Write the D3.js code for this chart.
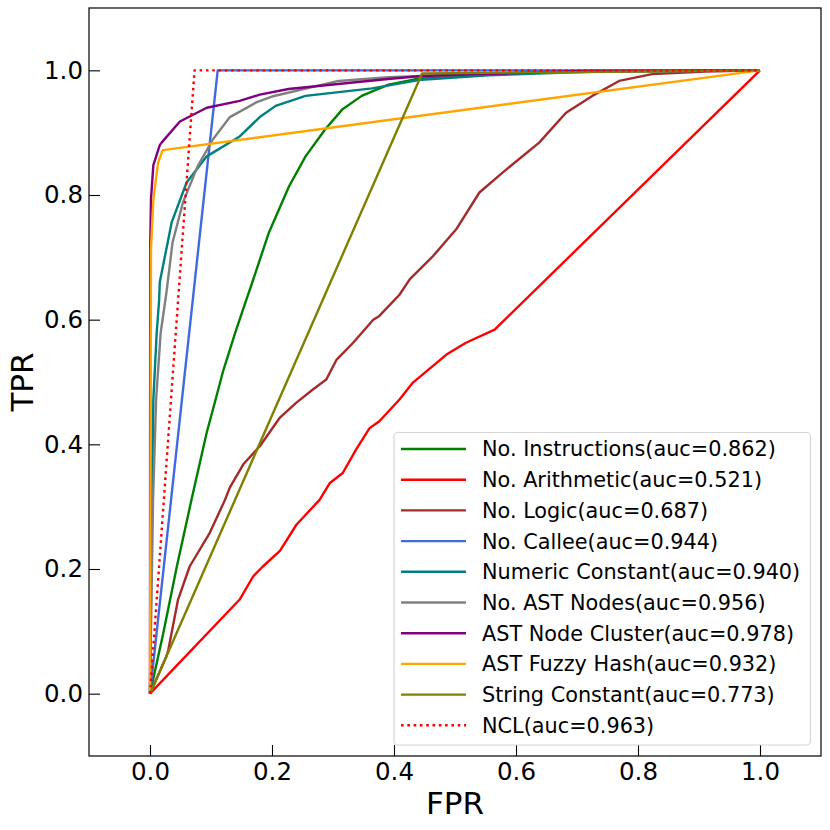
<!DOCTYPE html>
<html>
<head>
<meta charset="utf-8">
<script src="https://cdn.jsdelivr.net/npm/d3@7"></script>
<style>
  body { margin: 0; background: #fff; }
  text { font-family: "DejaVu Sans", sans-serif; fill: #000; }
</style>
</head>
<body>
<div id="chart"></div>
<script>
// ROC curves
const instrFpr = [0, 0.022, 0.044, 0.068, 0.093, 0.107, 0.12, 0.14, 0.158, 0.165, 0.195, 0.228, 0.255, 0.287, 0.315, 0.347, 0.391, 0.446, 0.55, 0.7, 1];
const instrTpr = [0, 0.098, 0.204, 0.311, 0.419, 0.47, 0.518, 0.58, 0.632, 0.652, 0.74, 0.814, 0.862, 0.905, 0.937, 0.959, 0.977, 0.988, 0.994, 0.998, 1];

const arithFpr = [0, 0.147, 0.169, 0.185, 0.213, 0.24, 0.278, 0.295, 0.316, 0.338, 0.36, 0.376, 0.409, 0.431, 0.486, 0.518, 0.565, 1];
const arithTpr = [0, 0.151, 0.188, 0.204, 0.229, 0.271, 0.311, 0.338, 0.354, 0.392, 0.426, 0.437, 0.472, 0.499, 0.544, 0.563, 0.584, 1];

const logicFpr = [0, 0.027, 0.03, 0.046, 0.065, 0.098, 0.123, 0.131, 0.153, 0.18, 0.213, 0.24, 0.267, 0.289, 0.306, 0.333, 0.366, 0.376, 0.409, 0.426, 0.464, 0.502, 0.54, 0.578, 0.638, 0.682, 0.725, 0.769, 0.823, 0.911, 1];
const logicTpr = [0, 0.06, 0.07, 0.151, 0.204, 0.258, 0.311, 0.331, 0.368, 0.397, 0.443, 0.467, 0.488, 0.504, 0.536, 0.563, 0.6, 0.606, 0.64, 0.665, 0.702, 0.745, 0.804, 0.836, 0.884, 0.932, 0.959, 0.983, 0.994, 0.998, 1];

const calleeFpr = [0, 0.111, 1];
const calleeTpr = [0, 1, 1];

const numFpr = [0, 0.002, 0.0055, 0.011, 0.015, 0.016, 0.0355, 0.06, 0.093, 0.147, 0.18, 0.206, 0.255, 0.364, 0.445, 0.555, 0.73, 1];
const numTpr = [0, 0.2, 0.472, 0.579, 0.632, 0.66, 0.756, 0.82, 0.862, 0.894, 0.925, 0.943, 0.959, 0.971, 0.985, 0.992, 0.998, 1];

const nodesFpr = [0, 0.005, 0.01, 0.0175, 0.027, 0.037, 0.054, 0.078, 0.103, 0.131, 0.175, 0.2, 0.309, 0.391, 0.6, 1];
const nodesTpr = [0, 0.311, 0.472, 0.579, 0.644, 0.724, 0.788, 0.846, 0.889, 0.925, 0.949, 0.958, 0.983, 0.989, 0.996, 1];

const clusterFpr = [0, 0.0003, 0.0016, 0.0055, 0.016, 0.019, 0.049, 0.093, 0.147, 0.18, 0.227, 0.39, 0.445, 0.709, 1];
const clusterTpr = [0, 0.712, 0.793, 0.848, 0.88, 0.884, 0.918, 0.94, 0.951, 0.961, 0.97, 0.986, 0.991, 0.999, 1];

const fuzzyFpr = [0, 0.0016, 0.0055, 0.013, 0.015, 0.021, 1];
const fuzzyTpr = [0, 0.712, 0.793, 0.85, 0.857, 0.872, 1];

const stringFpr = [0, 0.446, 1];
const stringTpr = [0, 0.995, 1];

const nclFpr = [0, 0.073, 1];
const nclTpr = [0, 1, 1];

const seriesNames = [
  'No. Instructions(auc=0.862)', 'No. Arithmetic(auc=0.521)', 'No. Logic(auc=0.687)',
  'No. Callee(auc=0.944)', 'Numeric Constant(auc=0.940)', 'No. AST Nodes(auc=0.956)',
  'AST Node Cluster(auc=0.978)', 'AST Fuzzy Hash(auc=0.932)', 'String Constant(auc=0.773)',
  'NCL(auc=0.963)'
];
const seriesFpr = [instrFpr, arithFpr, logicFpr, calleeFpr, numFpr, nodesFpr, clusterFpr, fuzzyFpr, stringFpr, nclFpr];
const seriesTpr = [instrTpr, arithTpr, logicTpr, calleeTpr, numTpr, nodesTpr, clusterTpr, fuzzyTpr, stringTpr, nclTpr];
const seriesColors = ['green', 'red', 'brown', 'royalblue', 'teal', 'gray', 'purple', 'orange', 'olive', 'red'];
const seriesDash = [null, null, null, null, null, null, null, null, null, '2.6,3.7'];

const xTicks = [0, 0.2, 0.4, 0.6, 0.8, 1.0];
const yTicks = [0, 0.2, 0.4, 0.6, 0.8, 1.0];

// Layout
const W = 830, H = 830;
const plot = { left: 89, right: 821, top: 8, bottom: 756 };

const svg = d3.select('#chart')
  .append('svg')
  .attr('width', W)
  .attr('height', H);

const x = d3.scaleLinear().domain([-0.1, 1.1]).range([plot.left, plot.right]);
const y = d3.scaleLinear().domain([-0.1, 1.1]).range([plot.bottom, plot.top]);

svg.append('clipPath').attr('id', 'clip')
  .append('rect')
  .attr('x', plot.left).attr('y', plot.top)
  .attr('width', plot.right - plot.left)
  .attr('height', plot.bottom - plot.top);

// Curves
const line = d3.line().x(d => x(d[0])).y(d => y(d[1]));
const curves = svg.append('g').attr('clip-path', 'url(#clip)');

seriesNames.forEach((name, i) => {
  const pts = seriesFpr[i].map((v, j) => [v, seriesTpr[i][j]]);
  curves.append('path')
    .datum(pts)
    .attr('d', line)
    .attr('fill', 'none')
    .attr('stroke', seriesColors[i])
    .attr('stroke-width', 2.4)
    .attr('stroke-linejoin', 'round')
    .attr('stroke-dasharray', seriesDash[i]);
});

// Axes with inward ticks
const fmt = d3.format('.1f');
const xAxis = svg.append('g')
  .attr('transform', `translate(0,${plot.bottom})`)
  .call(d3.axisBottom(x).tickValues(xTicks).tickFormat(fmt)
    .tickSizeInner(-11).tickSizeOuter(0).tickPadding(7));
const yAxis = svg.append('g')
  .attr('transform', `translate(${plot.left},0)`)
  .call(d3.axisLeft(y).tickValues(yTicks).tickFormat(fmt)
    .tickSizeInner(-11).tickSizeOuter(0).tickPadding(6));

[xAxis, yAxis].forEach(a => {
  a.select('.domain').remove();
  a.selectAll('.tick line').attr('stroke', '#000').attr('stroke-width', 1.1);
  a.selectAll('.tick text')
    .style('font-family', '"DejaVu Sans", sans-serif')
    .style('font-size', '24.5px')
    .attr('fill', '#000');
});

// Frame
svg.append('rect')
  .attr('x', plot.left).attr('y', plot.top)
  .attr('width', plot.right - plot.left)
  .attr('height', plot.bottom - plot.top)
  .attr('fill', 'none')
  .attr('stroke', '#000')
  .attr('stroke-width', 1.2);

// Axis labels
svg.append('text')
  .attr('x', (plot.left + plot.right) / 2)
  .attr('y', 814)
  .attr('text-anchor', 'middle')
  .style('font-size', '31px')
  .text('FPR');

svg.append('text')
  .attr('transform', `translate(32.5,${(plot.top + plot.bottom) / 2}) rotate(-90)`)
  .attr('text-anchor', 'middle')
  .style('font-size', '31px')
  .text('TPR');

// Legend
const legend = svg.append('g');
legend.append('rect')
  .attr('x', 394).attr('y', 432.5)
  .attr('width', 416.5).attr('height', 312.5)
  .attr('rx', 4)
  .attr('fill', '#fff')
  .attr('fill-opacity', 0.8)
  .attr('stroke', '#d6d6d6')
  .attr('stroke-width', 1.2);

const rowStep = 30.7;
seriesNames.forEach((name, i) => {
  const cy = 449 + i * rowStep;
  legend.append('line')
    .attr('x1', 401).attr('x2', 466)
    .attr('y1', cy).attr('y2', cy)
    .attr('stroke', seriesColors[i])
    .attr('stroke-width', 2.4)
    .attr('stroke-dasharray', seriesDash[i]);
  legend.append('text')
    .attr('x', 482)
    .attr('y', cy)
    .attr('dy', '0.36em')
    .style('font-size', '20.8px')
    .text(name);
});
</script>
</body>
</html>
